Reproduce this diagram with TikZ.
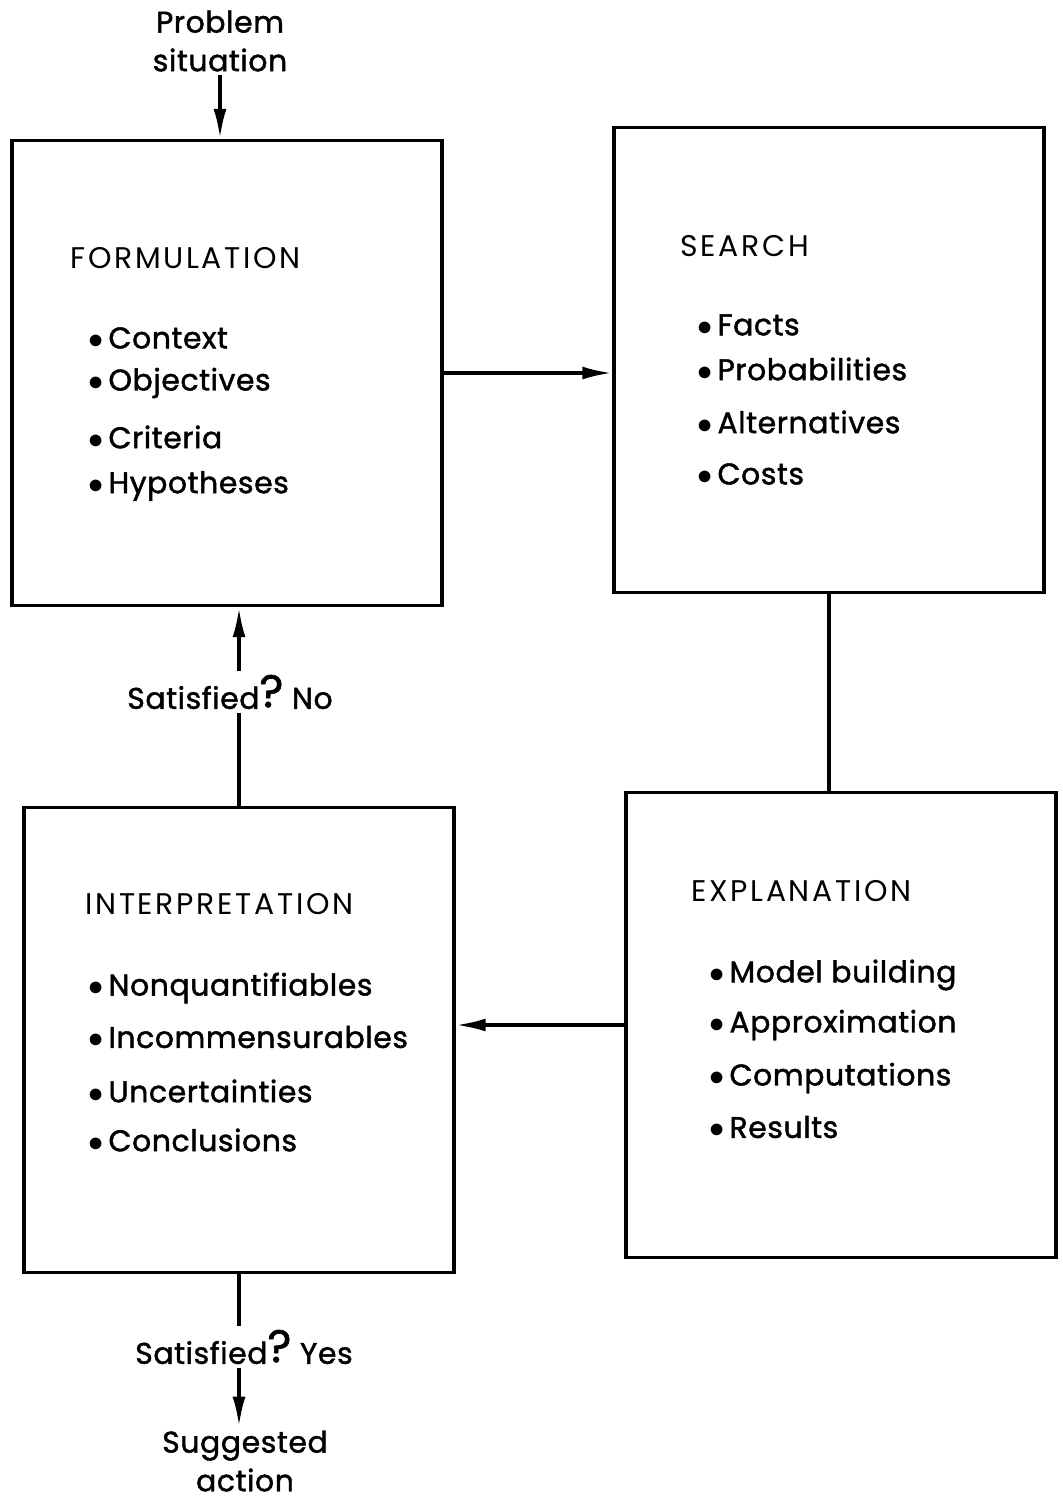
\documentclass[tikz,border=0pt]{standalone}
\usepackage{fontspec}
\setmainfont{Poppins}
\newfontfamily\headfont{Poppins}[LetterSpace=9]
\newfontfamily\itemfont{Poppins}[LetterSpace=2,FakeBold=1.5]
\usetikzlibrary{arrows.meta}
\tikzset{
	stagebox/.style={draw, line width=2pt, minimum width=8.6cm, minimum height=9.3cm, inner sep=0pt},
	heading/.style={anchor=west, font=\headfont\fontsize{17}{20}\selectfont, inner sep=0pt},
	item/.style={anchor=west, font=\itemfont\fontsize{17}{20}\selectfont, inner sep=0pt},
	note/.style={font=\itemfont\fontsize{17}{22}\selectfont, align=center, inner sep=2pt},
	flow/.style={line width=2pt, -{Latex[length=6mm,width=2.6mm]}}
}
\newcommand{\bigq}{\raisebox{0.1ex}{\fontsize{26}{26}\selectfont ?}}

\begin{document}
\begin{tikzpicture}[x=0.02cm, y=-0.02cm]
\useasboundingbox (0,0) rectangle (1062,1501);
% Boxes
\node[stagebox] (formulation) at (227,373) {};
\node[stagebox] (search) at (829,360) {};
\node[stagebox] (explanation) at (841,1025) {};
\node[stagebox] (interpretation) at (239,1040) {};
% Headings
\node[heading] (formhead) at (70,258) {FORMULATION};
\node[heading] (searchhead) at (680,246) {SEARCH};
\node[heading] (explhead) at (691,891) {EXPLANATION};
\node[heading] (interphead) at (85,904) {INTERPRETATION};
% Items
\foreach \y/\t in {338/Context, 383/Objectives, 437/Criteria, 486/Hypotheses} {
\node[item] at (88,\y) {$\bullet$\,\t};
}
\foreach \y/\t in {325/Facts, 369/Probabilities, 422/Alternatives, 474/Costs} {
\node[item] at (697,\y) {$\bullet$\,\t};
}
\foreach \y/\t in {975/Model building, 1025/Approximation, 1078/Computations, 1127/Results} {
\node[item] at (709,\y) {$\bullet$\,\t};
}
\foreach \y/\t in {988/Nonquantifiables, 1037/Incommensurables, 1091/Uncertainties, 1140/Conclusions} {
\node[item] at (88,\y) {$\bullet$\,\t};
}
% Outside labels
\node[note] (problem) at (220,41) {Problem\\situation};
\node[note] (satno) at (230,692) {Satisfied\bigq\ No};
\node[note] (satyes) at (244,1347) {Satisfied\bigq\ Yes};
\node[note] (action) at (245,1461) {Suggested\\action};
% Connectors
\draw[flow] (problem.south) -- (problem.south |- formulation.north);
\draw[flow] (formulation.east) -- (formulation.east -| search.west);
\draw[line width=2pt] (search.south) -- (search.south |- explanation.north);
\draw[flow] (explanation.west) -- (explanation.west -| interpretation.east);
\draw[line width=2pt] (interpretation.north) -- (interpretation.north |- satno.south);
\draw[flow] (interpretation.north |- satno.north) -- (interpretation.north |- formulation.south);
\draw[line width=2pt] (interpretation.south) -- (interpretation.south |- satyes.north);
\draw[flow] (interpretation.south |- satyes.south) -- (interpretation.south |- action.north);
\end{tikzpicture}
\end{document}
